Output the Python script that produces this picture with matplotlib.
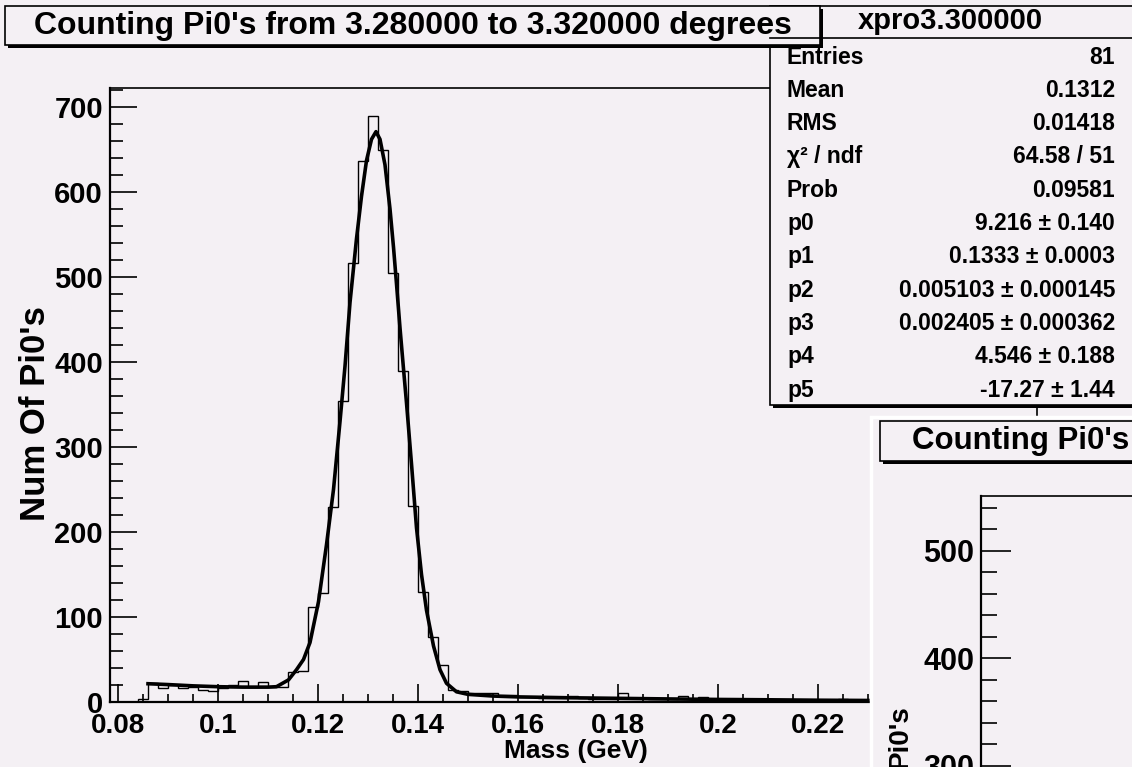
import numpy as np
import matplotlib
matplotlib.use('Agg')
import matplotlib.pyplot as plt
from matplotlib.patches import Rectangle
from matplotlib.ticker import MultipleLocator, FuncFormatter

# histogram of pi0 mass, 0.002 GeV bins starting at 0.080
bin_lo = 0.080
bin_hi = 0.230
counts = [0, 0, 4, 22, 17, 20, 17, 18, 14, 13,
          17, 20, 25, 18, 24, 18, 18, 35, 37, 112,
          128, 229, 354, 517, 637, 689, 649, 505, 389, 230,
          129, 76, 43, 14, 13, 10, 10, 11, 8, 8,
          6, 6, 5, 5, 5, 7, 5, 4, 3, 3,
          10, 5, 5, 4, 4, 4, 7, 4, 6, 2,
          1, 0, 3, 0, 0, 2, 0, 0, 2, 2,
          0, 0, 3, 0, 1]

# fitted curve
fit_x = [0.086, 0.090, 0.095, 0.100, 0.105, 0.110, 0.1117, 0.1141, 0.1157, 0.1171,
         0.1184, 0.1201, 0.1217, 0.1231, 0.1244, 0.1254, 0.1264, 0.1277, 0.1287, 0.1297,
         0.1307, 0.1316, 0.1324, 0.1334, 0.1344, 0.1351, 0.1357, 0.1364, 0.1371, 0.1377,
         0.1387, 0.1397, 0.1407, 0.1417, 0.1431, 0.1444, 0.1457, 0.1477, 0.150, 0.155,
         0.160, 0.170, 0.180, 0.190, 0.200, 0.210, 0.220, 0.230]
fit_y = [21.5, 20.5, 19, 18, 17.5, 17.5, 18, 26, 38, 50,
         70, 118, 185, 250, 330, 395, 470, 545, 595, 637,
         662, 671, 662, 632, 580, 535, 492, 440, 392, 352,
         280, 205, 150, 108, 66, 38, 22, 12, 9, 7,
         6, 5, 4.3, 3.6, 3.0, 2.6, 2.1, 1.8]

title = "Counting Pi0's from 3.280000 to 3.320000 degrees"
stats_name = "xpro3.300000"
stats_labels = ["Entries", "Mean", "RMS", "\u03c7\u00b2 / ndf", "Prob",
                "p0", "p1", "p2", "p3", "p4", "p5"]
stats_values = ["81", "0.1312", "0.01418", "64.58 / 51", "0.09581",
                "9.216 \u00b1 0.140", "0.1333 \u00b1 0.0003",
                "0.005103 \u00b1 0.000145", "0.002405 \u00b1 0.000362",
                "4.546 \u00b1 0.188", "-17.27 \u00b1 1.44"]

BG = '#f4f0f4'
W, H = 1132, 767

plt.rcParams['font.family'] = ['Liberation Sans', 'DejaVu Sans']
plt.rcParams['font.weight'] = 'bold'


def fx(x):
    return x / W


def fy(y):
    return 1 - y / H


def xlabel_fmt(v, _):
    # labels past 0.23 sit under the second pad
    if v > 0.2305:
        return ''
    return '%g' % round(v, 4)


fig = plt.figure(figsize=(W / 100, H / 100), dpi=100, facecolor=BG)

# main pad
ax = fig.add_axes([fx(110), fy(702), (1037 - 110) / W, (702 - 88) / H], zorder=1)
ax.set_facecolor('none')
edges = np.linspace(bin_lo, bin_hi, len(counts) + 1)
ax.stairs(counts, edges, color='black', lw=1.0, baseline=0)
ax.plot(fit_x, fit_y, color='black', lw=2.6)
ax.set_xlim(0.0784, 0.2638)
ax.set_ylim(0, 722.35)
ax.xaxis.set_major_locator(MultipleLocator(0.02))
ax.xaxis.set_minor_locator(MultipleLocator(0.005))
ax.yaxis.set_major_locator(MultipleLocator(100))
ax.yaxis.set_minor_locator(MultipleLocator(20))
ax.xaxis.set_major_formatter(FuncFormatter(xlabel_fmt))
ax.tick_params(axis='x', which='major', direction='in', length=13, width=1.2,
               labelsize=20, pad=8, top=False)
ax.tick_params(axis='x', which='minor', direction='in', length=6, width=1.2, top=False)
ax.tick_params(axis='y', which='major', direction='in', length=19.5, width=1.2,
               labelsize=21, pad=5, right=False)
ax.tick_params(axis='y', which='minor', direction='in', length=9.7, width=1.2, right=False)
for s in ['left', 'bottom']:
    ax.spines[s].set_linewidth(1.6)
for s in ['top', 'right']:
    ax.spines[s].set_linewidth(1.2)

# second pad background
under = fig.add_axes([0, 0, 1, 1], zorder=2)
under.set_xlim(0, W)
under.set_ylim(H, 0)
under.axis('off')
under.add_patch(Rectangle((871, 417), 300, 400, facecolor=BG, edgecolor='white', lw=2.5))

pa = fig.add_axes([fx(981), fy(900), (1400 - 981) / W, (900 - 496) / H], zorder=3)
pa.set_facecolor('none')
pa.set_ylim(175.4, 550.8)
pa.set_xticks([])
pa.yaxis.set_major_locator(MultipleLocator(100))
pa.yaxis.set_minor_locator(MultipleLocator(20))
pa.tick_params(axis='y', which='major', direction='in', length=21.6, width=1.2,
               labelsize=22, pad=5, right=False)
pa.tick_params(axis='y', which='minor', direction='in', length=11.5, width=1.2, right=False)
pa.spines['left'].set_linewidth(1.6)
pa.spines['top'].set_linewidth(1.2)
pa.spines['right'].set_visible(False)
pa.spines['bottom'].set_visible(False)

# overlay for boxes and titles, pixel coordinates
ov = fig.add_axes([0, 0, 1, 1], zorder=10)
ov.set_xlim(0, W)
ov.set_ylim(H, 0)
ov.axis('off')


def shadow_box(x0, y0, x1, y1, sh=3):
    ov.add_patch(Rectangle((x0 + sh, y0 + sh), x1 - x0, y1 - y0,
                           facecolor='black', edgecolor='none'))
    ov.add_patch(Rectangle((x0, y0), x1 - x0, y1 - y0,
                           facecolor=BG, edgecolor='black', lw=1.2))


# stats box
shadow_box(770, 6, 1140, 405)
ov.plot([770, 1140], [38, 38], color='black', lw=1.2)
ov.text(950, 21, stats_name, ha='center', va='center', fontsize=21)
row_y = 57
for lab, val in zip(stats_labels, stats_values):
    ov.text(787, row_y, lab, ha='left', va='center', fontsize=16.5)
    ov.text(1115, row_y, val, ha='right', va='center', fontsize=16.5)
    row_y += 33.3

# main title
shadow_box(5, 6, 820, 45)
ov.text(413, 26, title, ha='center', va='center', fontsize=23)

# axis titles
ov.text(576, 751, 'Mass (GeV)', ha='center', va='center', fontsize=19)
ov.text(36, 414, "Num Of Pi0's", ha='center', va='center', rotation=90, fontsize=25)

# second pad title and axis title
shadow_box(880, 421, 1150, 461)
ov.text(912, 441, "Counting Pi0's", ha='left', va='center', fontsize=22.5)
ov.text(900, 705, "Pi0's", ha='center', va='top', rotation=90, fontsize=20)

fig.savefig('out.png', dpi=100, facecolor=BG)
